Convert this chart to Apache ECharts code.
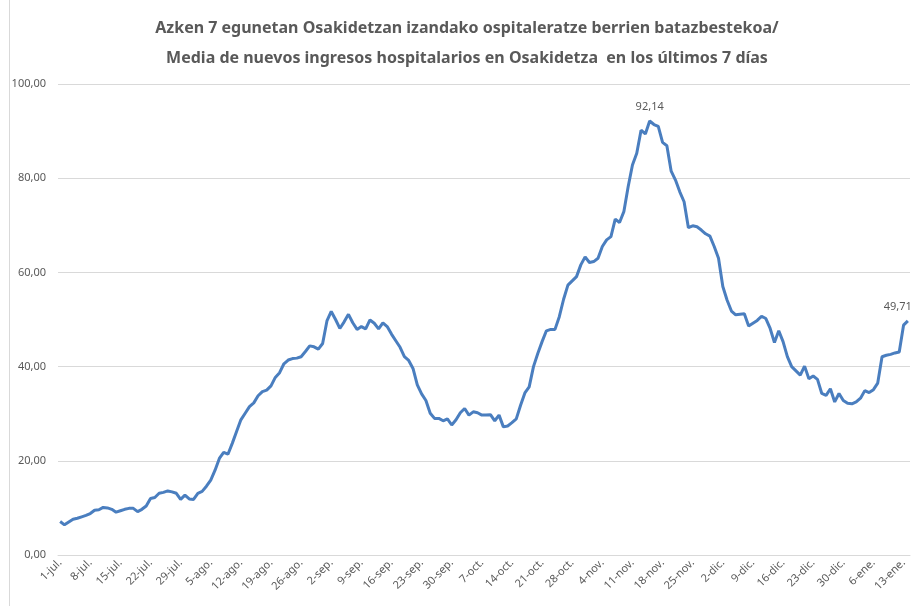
<!DOCTYPE html>
<html>
<head>
<meta charset="utf-8">
<script src="https://cdn.jsdelivr.net/npm/echarts@6/dist/echarts.min.js"></script>
<style>
  html, body { margin: 0; padding: 0; background: #fff; }
  #chart { width: 914px; height: 606px; }
</style>
</head>
<body>
<div id="chart"></div>
<script>
// media de 7 días, por mes
const jul = [7.1, 6.4, 7.0, 7.6, 7.8, 8.1, 8.4, 8.8, 9.5, 9.6, 10.1, 10.0, 9.7, 9.1, 9.4, 9.7, 9.9, 9.9, 9.2, 9.7, 10.4, 12.0, 12.2, 13.1, 13.3, 13.6, 13.4, 13.1, 11.8, 12.7, 11.9]
const ago = [11.8, 13.1, 13.5, 14.6, 15.9, 18.0, 20.5, 21.8, 21.4, 23.7, 26.2, 28.7, 30.1, 31.5, 32.3, 33.8, 34.7, 35.0, 35.9, 37.7, 38.7, 40.6, 41.4, 41.7, 41.8, 42.1, 43.2, 44.4, 44.2, 43.7, 44.9]
const sep = [49.7, 51.7, 50.0, 48.1, 49.5, 51.1, 49.3, 47.9, 48.5, 48.0, 49.9, 49.2, 48.0, 49.3, 48.5, 46.9, 45.5, 44.1, 42.1, 41.3, 39.6, 36.1, 34.2, 32.8, 30.1, 29.0, 29.0, 28.5, 28.9, 27.6]
const oct = [28.7, 30.2, 31.1, 29.7, 30.4, 30.2, 29.7, 29.7, 29.8, 28.5, 29.7, 27.2, 27.4, 28.1, 28.9, 31.8, 34.4, 35.7, 40.0, 42.8, 45.3, 47.6, 47.9, 47.9, 50.6, 54.3, 57.3, 58.2, 59.1, 61.6, 63.3]
const nov = [62.1, 62.3, 63.0, 65.5, 66.9, 67.6, 71.3, 70.6, 72.9, 78.2, 82.8, 85.3, 90.2, 89.4, 92.14, 91.4, 91.0, 87.6, 86.9, 81.5, 79.6, 77.1, 75.0, 69.5, 69.9, 69.7, 69.0, 68.2, 67.7, 65.5]
const dic = [63.0, 57.0, 54.1, 51.8, 51.0, 51.1, 51.2, 48.6, 49.2, 49.8, 50.7, 50.2, 48.1, 45.1, 47.6, 45.3, 42.1, 40.0, 39.1, 38.2, 40.1, 37.4, 38.0, 37.3, 34.3, 33.9, 35.3, 32.5, 34.3, 32.8, 32.2]
const ene = [32.1, 32.5, 33.3, 34.9, 34.5, 35.1, 36.5, 42.1, 42.4, 42.6, 42.9, 43.1, 48.8, 49.71]

const monthNames = ['jul', 'ago', 'sep', 'oct', 'nov', 'dic', 'ene']
const monthValues = [jul, ago, sep, oct, nov, dic, ene]

const categories = []
const values = []
monthValues.forEach((arr, m) => {
  arr.forEach((v, d) => {
    categories.push(`${d + 1}-${monthNames[m]}.`)
    values.push(v)
  })
})

const fmt = (v) => v.toFixed(2).replace('.', ',')

// etiquetas solo en el máximo y el último valor
const maxIdx = values.indexOf(Math.max(...values))
const lastIdx = values.length - 1

const textColor = '#595959'
const font = 'Noto Sans'

const myChart = echarts.init(document.getElementById('chart'))
const option = {
  animation: false,
  title: {
    text: 'Azken 7 egunetan Osakidetzan izandako ospitaleratze berrien batazbestekoa/\nMedia de nuevos ingresos hospitalarios en Osakidetza  en los últimos 7 días',
    left: 462,
    top: 8,
    textAlign: 'center',
    textStyle: {
      color: textColor,
      fontFamily: font,
      fontSize: 16,
      fontWeight: 'bold',
      lineHeight: 30
    }
  },
  graphic: [
    {
      type: 'line',
      shape: { x1: 9.5, y1: 0, x2: 9.5, y2: 606 },
      style: { stroke: '#D9D9D9', lineWidth: 1 }
    }
  ],
  grid: {
    left: 58,
    right: 4,
    top: 84,
    bottom: 51
  },
  xAxis: {
    type: 'category',
    data: categories,
    boundaryGap: true,
    axisLine: {
      show: true,
      lineStyle: { color: '#D9D9D9' }
    },
    axisTick: { show: false },
    axisLabel: {
      interval: 6,
      rotate: 45,
      margin: 6,
      color: textColor,
      fontFamily: font,
      fontSize: 11
    }
  },
  yAxis: {
    type: 'value',
    min: 0,
    max: 100,
    interval: 20,
    axisLine: { show: false },
    axisTick: { show: false },
    axisLabel: {
      color: textColor,
      fontFamily: font,
      fontSize: 11,
      margin: 12,
      formatter: (v) => fmt(v)
    },
    splitLine: {
      show: true,
      lineStyle: { color: '#D9D9D9' }
    }
  },
  series: [
    {
      type: 'line',
      data: values,
      showSymbol: false,
      symbol: 'none',
      lineStyle: {
        color: '#4A7EBF',
        width: 3
      },
      markPoint: {
        symbol: 'circle',
        symbolSize: 0,
        silent: true,
        label: {
          show: true,
          position: 'top',
          distance: 9,
          color: textColor,
          fontFamily: font,
          fontSize: 11,
          formatter: (p) => fmt(p.value)
        },
        data: [
          { coord: [maxIdx, values[maxIdx]], value: values[maxIdx] },
          { coord: [lastIdx, values[lastIdx]], value: values[lastIdx], label: { align: 'right', offset: [4, 0] } }
        ]
      }
    }
  ]
}
myChart.setOption(option)
</script>
</body>
</html>
